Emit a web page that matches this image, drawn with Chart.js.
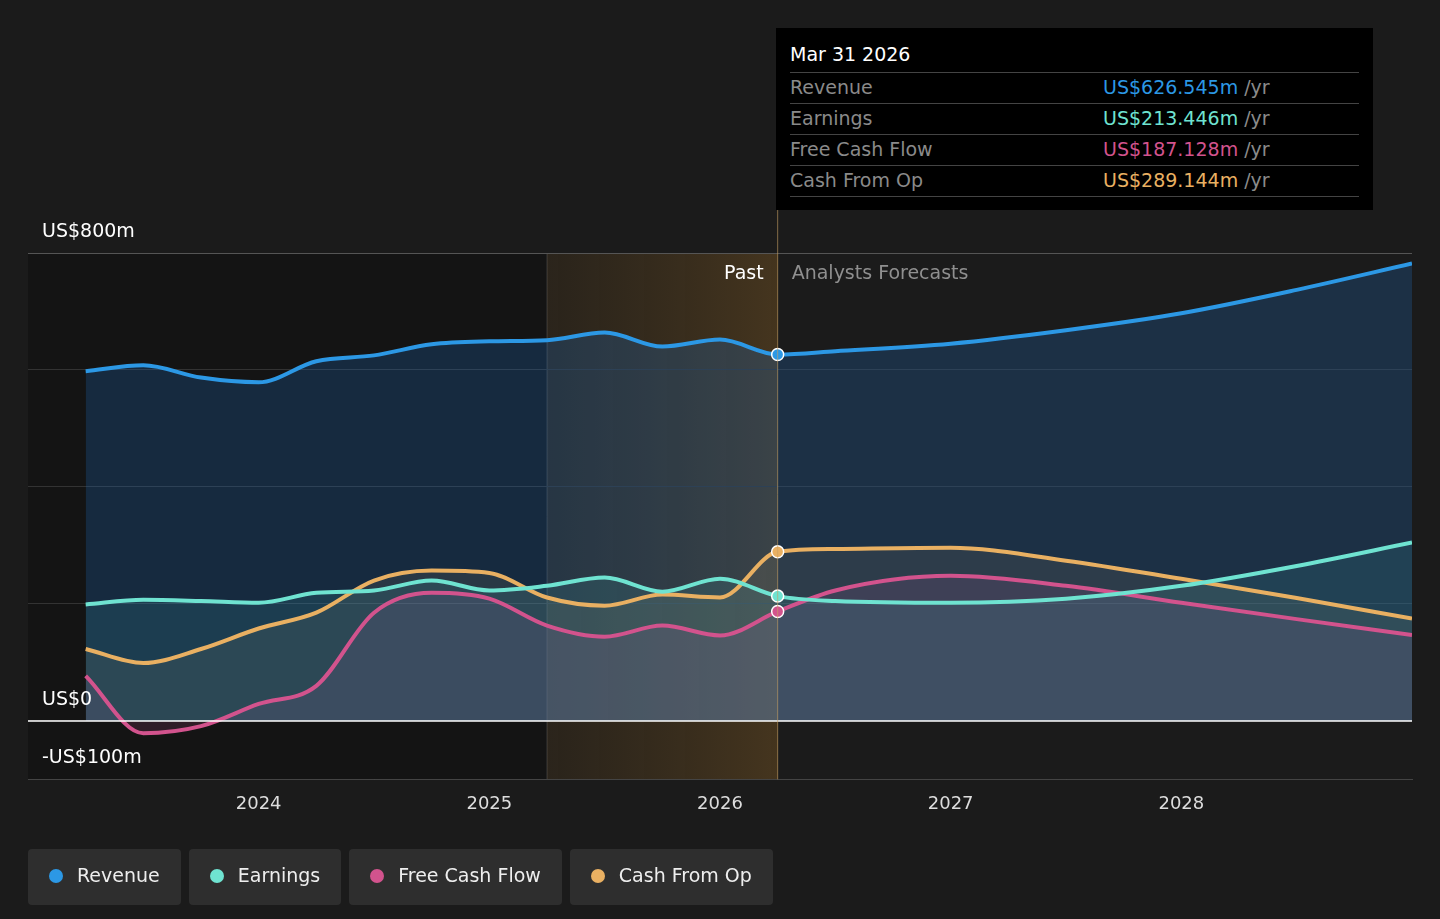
<!DOCTYPE html>
<html lang="en">
<head>
<meta charset="UTF-8">
<title>Revenue and Earnings</title>
<script src="https://cdn.jsdelivr.net/npm/chart.js"></script>
<style>
  body { margin: 0; background: #1b1b1b; font-family: "DejaVu Sans", sans-serif; }
  .wrap { position: relative; width: 1440px; height: 919px; }
  canvas { position: absolute; left: 0; top: 0; }
  .tip { position: absolute; left: 776px; top: 28px; width: 597px; height: 182px; background: #000; color: #fff; font-size: 19px; box-sizing: border-box; padding: 15px 14px 0 14px; }
  .tip .row { display: flex; justify-content: space-between; border-top: 1px solid #444; height: 30px; line-height: 28px; color: #8a8a8a; }
  .tip .row:last-child { border-bottom: 1px solid #444; }
  .tip .row span.v { width: 256px; }
  .tip .title { height: 29px; }
  .legend { position: absolute; left: 28px; top: 849px; display: flex; gap: 8px; }
  .legend div { background: #2e2e2e; color: #eee; font-size: 19px; height: 56px; line-height: 52px; border-radius: 4px; padding: 0 21px; }
  .legend i { display: inline-block; width: 14px; height: 14px; border-radius: 50%; margin-right: 14px; vertical-align: -1px; }
</style>
</head>
<body>
<div class="wrap">
  <canvas id="chart" width="1440" height="919"></canvas>
  <div class="tip">
    <div class="title">Mar 31 2026</div>
    <div class="row"><span>Revenue</span><span class="v"><b style="font-weight:normal;color:#2c98e5">US$626.545m</b> /yr</span></div>
    <div class="row"><span>Earnings</span><span class="v"><b style="font-weight:normal;color:#6fe3d1">US$213.446m</b> /yr</span></div>
    <div class="row"><span>Free Cash Flow</span><span class="v"><b style="font-weight:normal;color:#d2538d">US$187.128m</b> /yr</span></div>
    <div class="row"><span>Cash From Op</span><span class="v"><b style="font-weight:normal;color:#e9b062">US$289.144m</b> /yr</span></div>
  </div>
  <div class="legend">
    <div><i style="background:#2c98e5"></i>Revenue</div>
    <div><i style="background:#6fe3d1"></i>Earnings</div>
    <div><i style="background:#d2538d"></i>Free Cash Flow</div>
    <div><i style="background:#e9b062"></i>Cash From Op</div>
  </div>
</div>
<script>
  // quarterly history up to Mar 2026, then forecasts (US$m)
  const pastX = [2023.25, 2023.5, 2023.75, 2024.0, 2024.25, 2024.5, 2024.75, 2025.0, 2025.25, 2025.5, 2025.75, 2026.0, 2026.25];
  const revenuePast = [598, 608, 587, 579, 615, 625, 644, 649, 651, 664, 640, 652, 626.5];
  const earningsPast = [199, 207, 205, 202, 219, 223, 240, 223, 231, 245, 221, 243, 213.4];
  const fcfPast = [77, -21, -9, 29, 60, 185, 219, 209, 163, 144, 163, 146, 187.1];
  const cfoPast = [123, 99, 123, 158, 185, 240, 257, 253, 211, 197, 216, 211, 289.1];

  const foreX = [2026.5, 2027, 2027.5, 2028, 2028.5, 2029];
  const revenueFore = [632, 645, 668, 697, 737, 782];
  const earningsFore = [205, 202, 209, 231, 265, 305];
  const fcfFore = [223, 248, 231, 202, 174, 147];
  const cfoFore = [294, 296, 274, 243, 210, 175];

  const yTicks = [-100, 0, 200, 400, 600, 800];
  const xTicks = [2024, 2025, 2026, 2027, 2028];
  const nowX = 2026.25, bandStart = 2025.25;

  const allX = pastX.concat(foreX);
  function pts(past, fore) { return allX.map((x, i) => ({ x: x, y: i < past.length ? past[i] : fore[i - past.length] })); }
  const nowIdx = pastX.length - 1;

  function series(label, color, fill, past, fore) {
    return {
      label: label, data: pts(past, fore), borderColor: color, backgroundColor: fill,
      fill: 'origin', borderWidth: 4, cubicInterpolationMode: 'monotone',
      pointRadius: c => c.dataIndex === nowIdx ? 6 : 0,
      pointBackgroundColor: color, pointBorderColor: '#fff', pointBorderWidth: 1.5
    };
  }

  const decor = {
    id: 'decor',
    beforeDraw(chart) {
      const { ctx, chartArea: a, scales: { x } } = chart;
      const b0 = x.getPixelForValue(bandStart), n = x.getPixelForValue(nowX);
      ctx.save();
      ctx.fillStyle = '#141414';
      ctx.fillRect(a.left, a.top, b0 - a.left, a.bottom - a.top);
      const g = ctx.createLinearGradient(b0, 0, n, 0);
      g.addColorStop(0, 'rgba(90,65,30,0.25)');
      g.addColorStop(1, 'rgba(120,85,35,0.45)');
      ctx.fillStyle = g;
      ctx.fillRect(b0, a.top, n - b0, a.bottom - a.top);
      ctx.strokeStyle = 'rgba(255,255,255,0.15)';
      ctx.lineWidth = 1;
      ctx.beginPath(); ctx.moveTo(b0, a.top); ctx.lineTo(b0, a.bottom); ctx.stroke();
      ctx.restore();
    },
    afterDatasetsDraw(chart) {
      const { ctx, chartArea: a, scales: { x, y } } = chart;
      const n = x.getPixelForValue(nowX);
      ctx.save();
      ctx.strokeStyle = '#fff'; ctx.lineWidth = 1.5;
      const z = y.getPixelForValue(0);
      ctx.beginPath(); ctx.moveTo(a.left, z); ctx.lineTo(a.right, z); ctx.stroke();
      ctx.strokeStyle = 'rgba(200,160,100,0.6)'; ctx.lineWidth = 1;
      ctx.beginPath(); ctx.moveTo(n, 210); ctx.lineTo(n, a.bottom); ctx.stroke();
      ctx.font = '19px "DejaVu Sans"';
      ctx.textBaseline = 'middle';
      ctx.fillStyle = '#fff'; ctx.textAlign = 'right';
      ctx.fillText('Past', n - 14, a.top + 21);
      ctx.fillStyle = '#8f8f8f'; ctx.textAlign = 'left';
      ctx.fillText('Analysts Forecasts', n + 14, a.top + 21);
      ctx.fillStyle = '#fff';
      ctx.fillText('US$800m', 42, y.getPixelForValue(800) - 21);
      ctx.fillText('US$0', 42, y.getPixelForValue(0) - 21);
      ctx.fillText('-US$100m', 42, y.getPixelForValue(-100) - 21);
      ctx.restore();
    }
  };

  new Chart(document.getElementById('chart'), {
    type: 'line',
    data: {
      datasets: [
        series('Revenue', '#2c98e5', 'rgba(30,110,190,0.26)', revenuePast, revenueFore),
        series('Earnings', '#6fe3d1', 'rgba(80,200,180,0.14)', earningsPast, earningsFore),
        series('Free Cash Flow', '#d2538d', 'rgba(200,80,140,0.16)', fcfPast, fcfFore),
        series('Cash From Op', '#e9b062', 'rgba(230,170,90,0.12)', cfoPast, cfoFore)
      ]
    },
    options: {
      responsive: false, animation: false,
      layout: { padding: { left: 28, right: 28, top: 253, bottom: 98 } },
      plugins: { legend: { display: false }, tooltip: { enabled: false }, filler: { drawTime: 'beforeDatasetsDraw' } },
      scales: {
        x: {
          type: 'linear', min: 2023, max: 2029,
          afterBuildTicks: s => { s.ticks = xTicks.map(v => ({ value: v })); },
          grid: { display: false, drawTicks: true },
          border: { color: '#444' },
          ticks: { color: '#ddd', font: { size: 18, family: 'DejaVu Sans' }, padding: 6, callback: v => String(v) }
        },
        y: {
          min: -100, max: 800,
          afterBuildTicks: s => { s.ticks = yTicks.map(v => ({ value: v })); },
          ticks: { display: false },
          border: { display: false },
          grid: { color: c => c.tick.value === 800 || c.tick.value === -100 ? '#555' : '#333', drawTicks: false }
        }
      }
    },
    plugins: [decor]
  });
</script>
</body>
</html>
